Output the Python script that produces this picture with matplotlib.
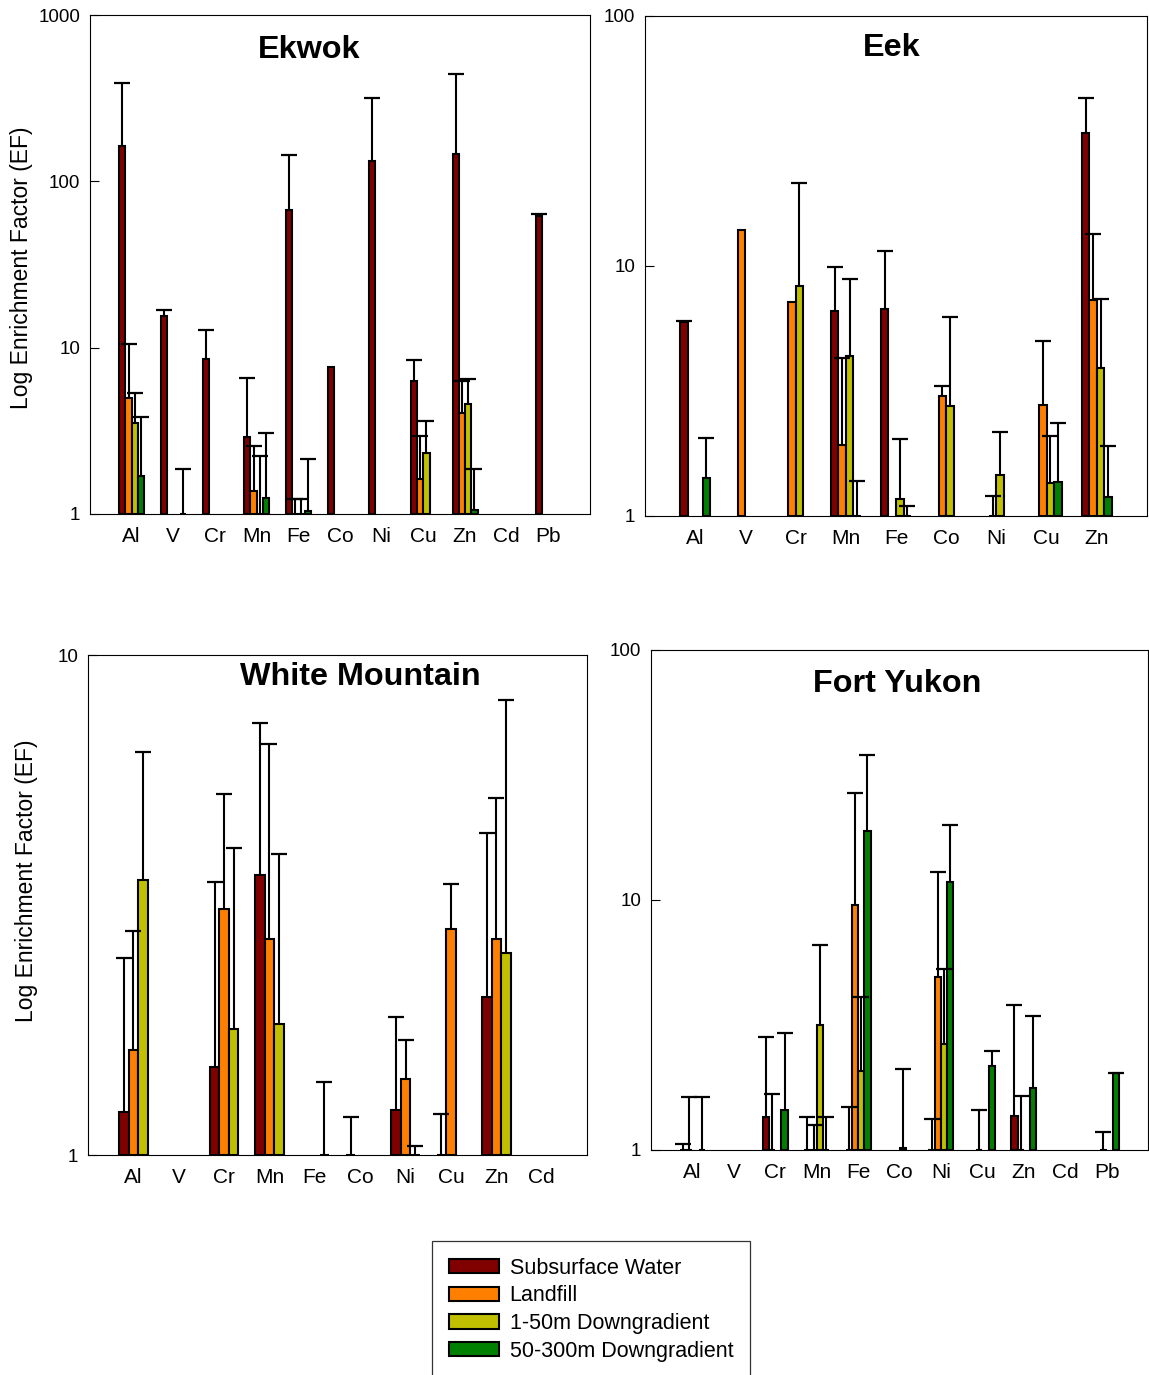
import numpy as np
import matplotlib
matplotlib.use('Agg')
import matplotlib.pyplot as plt
from matplotlib.patches import Patch

plt.rcParams['font.family'] = ['Liberation Sans', 'DejaVu Sans']

nan = np.nan

series_names = ['Subsurface Water', 'Landfill', '1-50m Downgradient', '50-300m Downgradient']
series_colors = ['#800000', '#FF8000', '#C0C000', '#008000']

# Ekwok (value, upper end of error bar)
ekwok_elements = ['Al', 'V', 'Cr', 'Mn', 'Fe', 'Co', 'Ni', 'Cu', 'Zn', 'Cd', 'Pb']
ekwok_sub = [163, 15.6, 8.5, 2.9, 67, 7.7, 132, 6.3, 145, nan, 62]
ekwok_sub_hi = [389, 16.9, 12.7, 6.6, 143, nan, 315, 8.4, 443, nan, 64]
ekwok_land = [5.0, nan, nan, 1.37, 1.0, nan, nan, 1.62, 4.06, nan, nan]
ekwok_land_hi = [10.45, nan, nan, 2.57, 1.23, nan, nan, 2.94, 6.29, nan, nan]
ekwok_near = [3.54, nan, nan, 1.0, 1.0, nan, nan, 2.33, 4.6, nan, nan]
ekwok_near_hi = [5.31, nan, nan, 2.24, 1.23, nan, nan, 3.63, 6.47, nan, nan]
ekwok_far = [1.70, 1.0, nan, 1.25, 1.04, nan, nan, nan, 1.06, nan, nan]
ekwok_far_hi = [3.81, 1.87, nan, 3.08, 2.14, nan, nan, nan, 1.86, nan, nan]

# Eek
eek_elements = ['Al', 'V', 'Cr', 'Mn', 'Fe', 'Co', 'Ni', 'Cu', 'Zn']
eek_sub = [5.95, nan, nan, 6.61, 6.73, nan, nan, nan, 34.1]
eek_sub_hi = [6.0, nan, nan, 9.94, 11.5, nan, nan, nan, 47.0]
eek_land = [nan, 13.9, 7.16, 1.92, nan, 3.03, 1.0, 2.77, 7.31]
eek_land_hi = [nan, nan, nan, 4.30, nan, 3.32, 1.20, 5.03, 13.4]
eek_near = [nan, nan, 8.32, 4.37, 1.17, 2.75, 1.46, 1.36, 3.90]
eek_near_hi = [nan, nan, 21.5, 8.85, 2.03, 6.25, 2.16, 2.09, 7.38]
eek_far = [1.415, nan, nan, 1.0, 1.0, nan, nan, 1.37, 1.19]
eek_far_hi = [2.06, nan, nan, 1.38, 1.10, nan, nan, 2.36, 1.90]

# White Mountain
wm_elements = ['Al', 'V', 'Cr', 'Mn', 'Fe', 'Co', 'Ni', 'Cu', 'Zn', 'Cd']
wm_sub = [1.22, nan, 1.50, 3.63, nan, 1.0, 1.23, 1.0, 2.07, nan]
wm_sub_hi = [2.48, nan, 3.51, 7.32, nan, 1.19, 1.89, 1.21, 4.40, nan]
wm_land = [1.62, nan, 3.11, 2.71, nan, nan, 1.42, 2.83, 2.70, nan]
wm_land_hi = [2.81, nan, 5.27, 6.63, nan, nan, 1.70, 3.48, 5.18, nan]
wm_near = [3.54, nan, 1.79, 1.83, 1.0, nan, 1.0, nan, 2.54, nan]
wm_near_hi = [6.40, nan, 4.12, 4.0, 1.40, nan, 1.04, nan, 8.13, nan]

# Fort Yukon
fy_elements = ['Al', 'V', 'Cr', 'Mn', 'Fe', 'Co', 'Ni', 'Cu', 'Zn', 'Cd', 'Pb']
fy_sub = [1.0, nan, 1.35, 1.0, 1.0, nan, 1.0, nan, 1.37, nan, nan]
fy_sub_hi = [1.06, nan, 2.84, 1.36, 1.49, nan, 1.33, nan, 3.80, nan, nan]
fy_land = [1.0, nan, 1.0, 1.0, 9.55, nan, 4.91, 1.0, 1.0, nan, 1.0]
fy_land_hi = [1.63, nan, 1.67, 1.26, 26.9, nan, 12.9, 1.45, 1.64, nan, 1.18]
fy_near = [nan, nan, nan, 3.16, 2.07, 1.02, 2.65, nan, nan, nan, nan]
fy_near_hi = [nan, nan, nan, 6.61, 4.10, 2.10, 5.30, nan, nan, nan, nan]
fy_far = [1.0, nan, 1.44, 1.0, 18.9, nan, 11.8, 2.17, 1.77, nan, 2.03]
fy_far_hi = [1.63, nan, 2.93, 1.36, 37.9, nan, 19.9, 2.50, 3.44, nan, 2.04]

W, H = 1149, 1375
fig = plt.figure(figsize=(W / 100, H / 100), dpi=100)


def make_axes(left, top, right, bottom):
    return fig.add_axes([left / W, 1 - bottom / H, (right - left) / W, (bottom - top) / H])


def draw_panel(ax, title, elements, values, highs, ymax, bar_w, title_xy):
    x = np.arange(1, len(elements) + 1)
    n = len(values)
    for i in range(n):
        off = (i - (n - 1) / 2) * bar_w
        v = np.array(values[i], dtype=float)
        hi = np.array(highs[i], dtype=float)
        ax.bar(x + off, v - 1, bottom=1, width=bar_w, color=series_colors[i],
               edgecolor='black', linewidth=1.5, zorder=2)
        # upper error bars only
        m = ~np.isnan(v) & ~np.isnan(hi)
        ax.vlines(x[m] + off, v[m], hi[m], color='black', linewidth=1.5, zorder=3)
        ax.plot(x[m] + off, hi[m], ls='none', marker='_', ms=11.5, mew=1.6,
                color='black', zorder=3)
    ax.set_yscale('log')
    ax.set_ylim(1, ymax)
    ax.set_xlim(0, len(elements) + 1)
    ticks = [10 ** k for k in range(int(np.log10(ymax)) + 1)]
    ax.set_yticks(ticks)
    ax.set_yticklabels([str(t) for t in ticks])
    ax.yaxis.set_minor_locator(matplotlib.ticker.NullLocator())
    ax.set_xticks(x)
    ax.set_xticklabels(elements)
    ax.tick_params(axis='x', length=0, pad=9.5, labelsize=15)
    ax.tick_params(axis='y', direction='in', length=6.5, width=0.8, pad=7, labelsize=13.5)
    for s in ax.spines.values():
        s.set_linewidth(0.8)
    ax.text(title_xy[0], title_xy[1], title, transform=ax.transAxes, ha='center',
            va='center', fontsize=23.3, fontweight='bold')


ax1 = make_axes(90, 15, 590, 514)
draw_panel(ax1, 'Ekwok', ekwok_elements,
           [ekwok_sub, ekwok_land, ekwok_near, ekwok_far],
           [ekwok_sub_hi, ekwok_land_hi, ekwok_near_hi, ekwok_far_hi],
           1000, 0.15, (0.438, 0.930))

ax2 = make_axes(645, 16, 1147, 516)
draw_panel(ax2, 'Eek', eek_elements,
           [eek_sub, eek_land, eek_near, eek_far],
           [eek_sub_hi, eek_land_hi, eek_near_hi, eek_far_hi],
           100, 0.15, (0.492, 0.936))

ax3 = make_axes(88, 655, 587, 1155)
draw_panel(ax3, 'White Mountain', wm_elements,
           [wm_sub, wm_land, wm_near],
           [wm_sub_hi, wm_land_hi, wm_near_hi],
           10, 0.21, (0.545, 0.956))

ax4 = make_axes(651, 650, 1148, 1150)
draw_panel(ax4, 'Fort Yukon', fy_elements,
           [fy_sub, fy_land, fy_near, fy_far],
           [fy_sub_hi, fy_land_hi, fy_near_hi, fy_far_hi],
           100, 0.15, (0.496, 0.932))

fig.text(22 / W, 1 - 268 / H, 'Log Enrichment Factor (EF)', rotation=90,
         ha='center', va='center', fontsize=16.5)
fig.text(27 / W, 1 - 881 / H, 'Log Enrichment Factor (EF)', rotation=90,
         ha='center', va='center', fontsize=16.5)

handles = [Patch(facecolor=c, edgecolor='black', linewidth=1.5) for c in series_colors]
leg = fig.legend(handles, series_names, loc='upper left',
                 bbox_to_anchor=(432 / W, 1 - 1241 / H), fontsize=15.5,
                 frameon=True, fancybox=False, edgecolor='black',
                 handlelength=2.33, handleheight=0.65, handletextpad=0.5,
                 labelspacing=0.31, borderpad=0.78, borderaxespad=0)
leg.get_frame().set_linewidth(0.9)

fig.savefig('out.png', dpi=100)
